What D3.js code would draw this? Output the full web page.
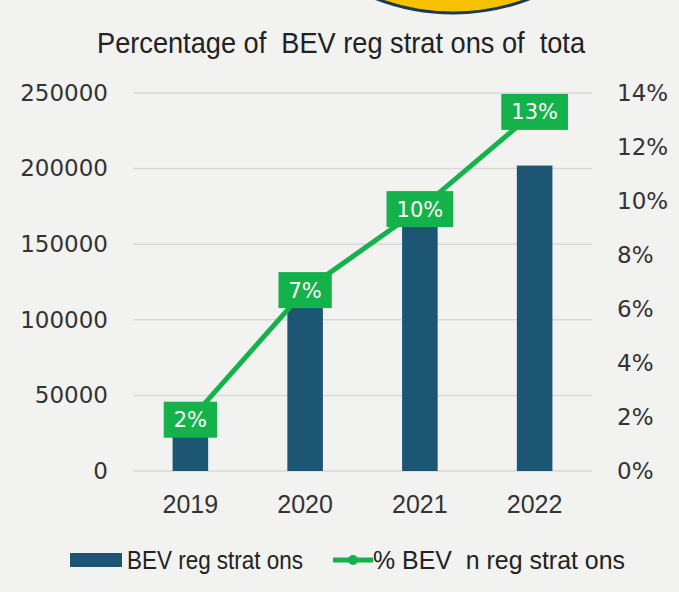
<!DOCTYPE html>
<html>
<head>
<meta charset="utf-8">
<script src="https://cdn.jsdelivr.net/npm/d3@7"></script>
<style>
  body { margin: 0; background: #f2f2f1; }
  svg { display: block; }
  text { white-space: pre; }
</style>
</head>
<body>
<div id="chart-area"></div>
<script>
// data
var years = ["2019", "2020", "2021", "2022"];
var registrations = [24000, 110000, 165000, 202000];
var shares = [0.019, 0.067, 0.097, 0.133];
var shareLabels = ["2%", "7%", "10%", "13%"];
var leftTicks = [0, 50000, 100000, 150000, 200000, 250000];
var rightTicks = [0, 0.02, 0.04, 0.06, 0.08, 0.10, 0.12, 0.14];

var W = 679, H = 592;
var barColor = "#1d5674", green = "#13b24b";
var narrow = "'Liberation Sans', sans-serif";
var round = "'DejaVu Sans', sans-serif";

var svg = d3.select("#chart-area").append("svg")
    .attr("width", W)
    .attr("height", H);

svg.append("rect").attr("width", W).attr("height", H).attr("fill", "#f2f2f1");

// yellow badge cut off at the top
svg.append("circle")
    .attr("cx", 453).attr("cy", -201).attr("r", 214)
    .attr("fill", "#f6c200")
    .attr("stroke", "#1b3a5a")
    .attr("stroke-width", 3);

// title
svg.append("text")
    .attr("x", 97).attr("y", 53)
    .attr("textLength", 488)
    .attr("lengthAdjust", "spacingAndGlyphs")
    .attr("font-family", narrow)
    .attr("font-size", "29px")
    .attr("fill", "#222")
    .text("Percentage of  BEV reg strat ons of  tota");

// scales
var x = d3.scaleBand().domain(years).range([133, 592])
    .paddingInner(0.69).paddingOuter(0.345);
var y = d3.scaleLinear().domain([0, 250000]).range([471, 93]);
var y2 = d3.scaleLinear().domain([0, 0.14]).range([471, 93]);

// gridlines
svg.append("g")
    .selectAll("line")
    .data(leftTicks)
    .join("line")
    .attr("x1", 133).attr("x2", 592)
    .attr("y1", d => y(d)).attr("y2", d => y(d))
    .attr("stroke", "#d9d9d9")
    .attr("stroke-width", 1.5);

// left axis
var yAxis = svg.append("g")
    .attr("transform", "translate(120,0)")
    .call(d3.axisLeft(y).tickValues(leftTicks).tickSize(0).tickPadding(12).tickFormat(d3.format("d")));
yAxis.select(".domain").remove();
yAxis.selectAll("text")
    .attr("font-family", round).attr("font-size", "23px").attr("fill", "#333");

// right axis
var y2Axis = svg.append("g")
    .attr("transform", "translate(605,0)")
    .call(d3.axisRight(y2).tickValues(rightTicks).tickSize(0).tickPadding(12).tickFormat(d3.format(".0%")));
y2Axis.select(".domain").remove();
y2Axis.selectAll("text")
    .attr("font-family", round).attr("font-size", "23px").attr("fill", "#333");

// x axis
var xAxis = svg.append("g")
    .attr("transform", "translate(0,485)")
    .call(d3.axisBottom(x).tickSize(0).tickPadding(10));
xAxis.select(".domain").remove();
xAxis.selectAll("text")
    .attr("font-family", narrow).attr("font-size", "25px").attr("fill", "#333");

// bars
svg.append("g")
    .selectAll("rect")
    .data(years)
    .join("rect")
    .attr("x", d => x(d))
    .attr("width", x.bandwidth())
    .attr("y", (d, i) => y(registrations[i]))
    .attr("height", (d, i) => y(0) - y(registrations[i]))
    .attr("fill", barColor);

// share line
var line = d3.line()
    .x((d, i) => x(years[i]) + x.bandwidth() / 2)
    .y(d => y2(d));
svg.append("path")
    .attr("d", line(shares))
    .attr("fill", "none")
    .attr("stroke", green)
    .attr("stroke-width", 5);

// data labels
var labels = svg.append("g")
    .selectAll("g")
    .data(shares)
    .join("g")
    .attr("transform", (d, i) => "translate(" + (x(years[i]) + x.bandwidth() / 2) + "," + y2(d) + ")");
labels.append("text")
    .attr("text-anchor", "middle")
    .attr("dy", "0.36em")
    .attr("font-family", round)
    .attr("font-size", "21px")
    .attr("fill", "#fff")
    .text((d, i) => shareLabels[i]);
labels.each(function() {
    var g = d3.select(this);
    var bb = g.select("text").node().getBBox();
    g.insert("rect", "text")
        .attr("x", -bb.width / 2 - 10)
        .attr("y", -18)
        .attr("width", bb.width + 20)
        .attr("height", 36)
        .attr("fill", green);
});

// legend
var legend = svg.append("g");
legend.append("rect")
    .attr("x", 70).attr("y", 553).attr("width", 52).attr("height", 14)
    .attr("fill", barColor);
legend.append("text")
    .attr("x", 127).attr("y", 569)
    .attr("textLength", 176)
    .attr("lengthAdjust", "spacingAndGlyphs")
    .attr("font-family", narrow).attr("font-size", "25px").attr("fill", "#222")
    .text("BEV reg strat ons");
legend.append("line")
    .attr("x1", 333).attr("x2", 373).attr("y1", 560).attr("y2", 560)
    .attr("stroke", green).attr("stroke-width", 5);
legend.append("circle")
    .attr("cx", 353).attr("cy", 560).attr("r", 5)
    .attr("fill", green);
legend.append("text")
    .attr("x", 373).attr("y", 569)
    .attr("textLength", 252)
    .attr("lengthAdjust", "spacingAndGlyphs")
    .attr("font-family", narrow).attr("font-size", "25px").attr("fill", "#222")
    .text("% BEV  n reg strat ons");
</script>
</body>
</html>
